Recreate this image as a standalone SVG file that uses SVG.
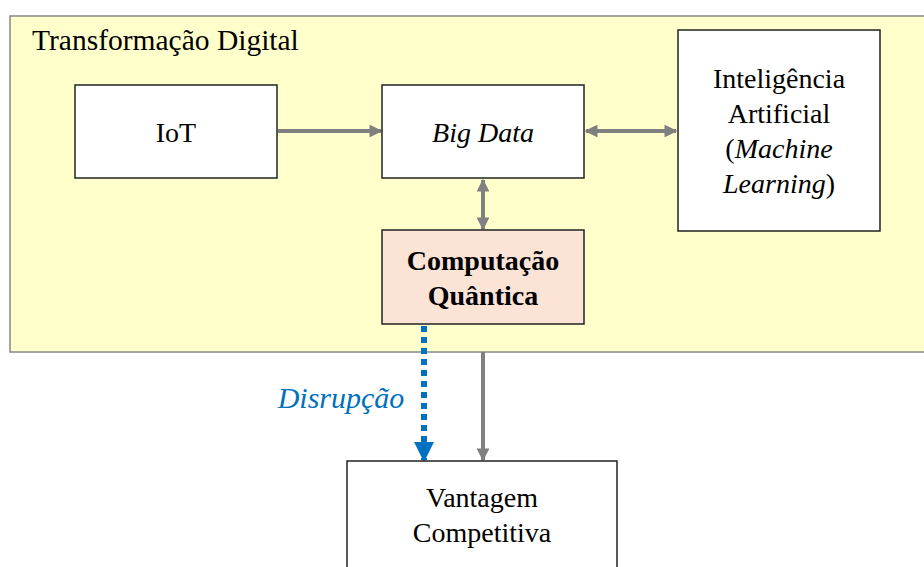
<svg xmlns="http://www.w3.org/2000/svg" width="924" height="567" viewBox="0 0 924 567">
<style>
text{fill:#000;text-anchor:middle;font-size:28px;font-family:'Liberation Serif',serif}
.box{fill:#fff;stroke:#222;stroke-width:1.5}
.g{stroke:#808080;stroke-width:4;fill:none}
.it{font-style:italic}
</style>
<defs>
<marker id="ah" viewBox="0 0 10 10" refX="9" refY="5" markerWidth="3.2" markerHeight="3.2" orient="auto-start-reverse" markerUnits="strokeWidth">
<path d="M0,0 L10,5 L0,10 z" fill="#808080"/>
</marker>
<marker id="bh" viewBox="0 0 10 10" refX="9" refY="5" markerWidth="3.4" markerHeight="3.4" orient="auto" markerUnits="strokeWidth">
<path d="M0,0 L10,5 L0,10 z" fill="#0070C0"/>
</marker>
</defs>
<rect width="924" height="567" fill="#fff"/>
<g id="transformacao">
<rect x="10" y="16" width="930" height="336" fill="#FFFFCC" stroke="#888" stroke-width="1.5"/>
<text x="32" y="50" font-family="'Liberation Serif', serif" style="text-anchor:start;font-size:29.5px">Transformação Digital</text>
</g>
<g id="connectors">
<line class="g" x1="278" y1="131" x2="381" y2="131" marker-end="url(#ah)"/>
<line class="g" x1="586" y1="131" x2="676" y2="131" marker-start="url(#ah)" marker-end="url(#ah)"/>
<line class="g" x1="483" y1="180" x2="483" y2="229" marker-start="url(#ah)" marker-end="url(#ah)"/>
<line class="g" x1="483" y1="352" x2="483" y2="460" marker-end="url(#ah)"/>
<line x1="424" y1="326" x2="424" y2="460" stroke="#0070C0" stroke-width="6" stroke-dasharray="6,5" marker-end="url(#bh)"/>
<text x="341" y="408" font-family="'Liberation Serif', serif" class="it" style="fill:#0070C0;font-size:30px">Disrupção</text>
</g>
<g id="iot">
<rect class="box" x="75" y="85" width="202" height="93"/>
<text x="176" y="142" font-family="'Liberation Serif', serif">IoT</text>
</g>
<g id="bigdata">
<rect class="box" x="382" y="85" width="202" height="93"/>
<text x="483" y="142" font-family="'Liberation Serif', serif" class="it">Big Data</text>
</g>
<g id="ia">
<rect class="box" x="678" y="30" width="202" height="201"/>
<text x="779" y="88" font-family="'Liberation Serif', serif">Inteligência</text>
<text x="779" y="123" font-family="'Liberation Serif', serif">Artificial</text>
<text x="779" y="158" font-family="'Liberation Serif', serif">(<tspan font-style="italic">Machine</tspan></text>
<text x="779" y="193" font-family="'Liberation Serif', serif"><tspan font-style="italic">Learning</tspan>)</text>
</g>
<g id="computacao">
<rect x="382" y="230" width="202" height="94" fill="#FBE3D6" stroke="#222" stroke-width="1.5"/>
<text x="483" y="270" font-family="'Liberation Serif', serif" font-weight="bold">Computação</text>
<text x="483" y="305" font-family="'Liberation Serif', serif" font-weight="bold">Quântica</text>
</g>
<g id="vantagem">
<rect class="box" x="347" y="461" width="270" height="130"/>
<text x="482" y="507" font-family="'Liberation Serif', serif">Vantagem</text>
<text x="482" y="542" font-family="'Liberation Serif', serif">Competitiva</text>
</g>
</svg>
